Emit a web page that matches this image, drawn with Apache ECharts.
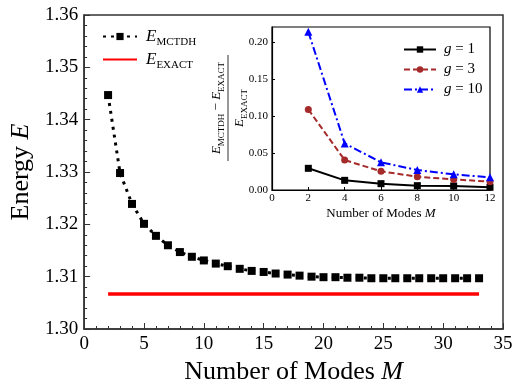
<!DOCTYPE html>
<html>
<head>
<meta charset="utf-8">
<script src="https://cdn.jsdelivr.net/npm/echarts@6/dist/echarts.min.js"></script>
<style>
  html, body { margin: 0; padding: 0; background: #fff; }
  #chart { width: 523px; height: 391px; }
</style>
</head>
<body>
<div id="chart"></div>
<script>
// main panel: energy vs number of modes
const modes = [2, 3, 4, 5, 6, 7, 8, 9, 10, 11, 12, 13, 14, 15, 16, 17,
  18, 19, 20, 21, 22, 23, 24, 25, 26, 27, 28, 29, 30, 31, 32, 33];
const eMctdh = [1.3447, 1.3298, 1.3239, 1.3201, 1.3178, 1.3160, 1.3147, 1.3138,
  1.3131, 1.3125, 1.3120, 1.3115, 1.3111, 1.3109, 1.3106, 1.3104,
  1.3102, 1.3100, 1.3099, 1.3099, 1.3098, 1.3098, 1.3097, 1.3097,
  1.3097, 1.3097, 1.3097, 1.3097, 1.3097, 1.3097, 1.3097, 1.3097];
const eExact = 1.3067;
const exactRange = [2, 33];

// inset: relative error
const insetModes = [2, 4, 6, 8, 10, 12];
const errG1 = [0.0294, 0.0131, 0.0086, 0.0059, 0.0054, 0.0036];
const errG3 = [0.1092, 0.0406, 0.0253, 0.0180, 0.0144, 0.0113];
const errG10 = [0.2144, 0.0632, 0.0375, 0.0271, 0.0212, 0.0172];

const serif = 'Liberation Serif';

const chart = echarts.init(document.getElementById('chart'));

const subRich = (big, small) => ({
  e: { fontFamily: serif, fontStyle: 'italic', fontSize: big, lineHeight: big + 6, verticalAlign: 'middle', color: '#000' },
  s: { fontFamily: serif, fontSize: small, lineHeight: small, verticalAlign: 'bottom', color: '#000' },
  m: { fontFamily: serif, fontSize: big, lineHeight: big + 6, verticalAlign: 'middle', color: '#000' }
});

const legendNames = {
  'E_MCTDH': '{e|E}{s|MCTDH}',
  'E_EXACT': '{e|E}{s|EXACT}',
  'g1': '{e|g}{m| = 1}',
  'g3': '{e|g}{m| = 3}',
  'g10': '{e|g}{m| = 10}'
};

const option = {
  animation: false,
  backgroundColor: '#fff',
  grid: [
    { left: 82, right: 20, top: 15, bottom: 62, show: true, borderColor: '#333', borderWidth: 1.5 },
    { left: 272, right: 33, top: 27, bottom: 201, show: true, borderColor: '#000', borderWidth: 1.2, backgroundColor: '#fff' }
  ],
  xAxis: [
    {
      gridIndex: 0, type: 'value', min: 0, max: 35, interval: 5,
      name: '{a|Number of Modes }{b|M}', nameLocation: 'middle', nameGap: 26,
      nameTextStyle: { rich: { a: { fontFamily: serif, fontSize: 26, color: '#000' }, b: { fontFamily: serif, fontStyle: 'italic', fontSize: 26, color: '#000' } } },
      axisLine: { lineStyle: { color: '#333', width: 1.5 } },
      axisTick: { inside: true, length: 6, lineStyle: { color: '#333' } },
      minorTick: { show: true, splitNumber: 5, length: 3, lineStyle: { color: '#333' } },
      splitLine: { show: false },
      axisLabel: { fontFamily: serif, fontSize: 19, color: '#000', margin: 6 }
    },
    {
      gridIndex: 1, type: 'value', min: 0, max: 12, interval: 2,
      name: '{a|Number of Modes }{b|M}', nameLocation: 'middle', nameGap: 17,
      nameTextStyle: { rich: { a: { fontFamily: serif, fontSize: 13, color: '#000' }, b: { fontFamily: serif, fontStyle: 'italic', fontSize: 13, color: '#000' } } },
      axisLine: { lineStyle: { color: '#000', width: 1.2 } },
      axisTick: { inside: true, length: 3, lineStyle: { color: '#000' } },
      splitLine: { show: false },
      axisLabel: { fontFamily: serif, fontSize: 11, color: '#000', margin: 3 }
    }
  ],
  yAxis: [
    {
      gridIndex: 0, type: 'value', min: 1.30, max: 1.36, interval: 0.01,
      name: '{a|Energy }{b|E}', nameLocation: 'middle', nameGap: 42, nameRotate: 90,
      nameTextStyle: { rich: { a: { fontFamily: serif, fontSize: 26, color: '#000' }, b: { fontFamily: serif, fontStyle: 'italic', fontSize: 26, color: '#000' } } },
      axisLine: { show: true, lineStyle: { color: '#333', width: 1.5 } },
      axisTick: { show: true, inside: true, length: 6, lineStyle: { color: '#333' } },
      minorTick: { show: true, splitNumber: 5, length: 3, lineStyle: { color: '#333' } },
      splitLine: { show: false },
      axisLabel: { fontFamily: serif, fontSize: 19, color: '#000', margin: 6, formatter: v => v.toFixed(2) }
    },
    {
      gridIndex: 1, type: 'value', min: 0, max: 0.221, interval: 0.05,
      axisLine: { show: true, lineStyle: { color: '#000', width: 1.2 } },
      axisTick: { show: true, inside: true, length: 3, lineStyle: { color: '#000' } },
      splitLine: { show: false },
      axisLabel: {
        fontFamily: serif, fontSize: 11, color: '#000', margin: 4, showMaxLabel: false,
        formatter: v => v.toFixed(2)
      }
    }
  ],
  legend: [
    {
      left: 97, top: 23, orient: 'vertical', itemWidth: 34, itemHeight: 9, itemGap: 3, z: 20,
      data: ['E_MCTDH', 'E_EXACT'],
      formatter: n => legendNames[n],
      textStyle: { padding: [0, 0, 0, 4], rich: subRich(17, 11) }
    },
    {
      left: 398, top: 37, orient: 'vertical', itemWidth: 32, itemHeight: 8, itemGap: 5, z: 20,
      data: ['g1', 'g3', 'g10'],
      formatter: n => legendNames[n],
      textStyle: { padding: [0, 0, 0, 3], rich: subRich(15, 10) }
    }
  ],
  graphic: [
    {
      type: 'group', x: 228, y: 108, rotation: Math.PI / 2,
      children: [
        { type: 'text', x: 0, y: -2, style: { text: '{e|E}{s|MCTDH}{m| − }{e|E}{s|EXACT}', rich: subRich(13, 9), align: 'center', verticalAlign: 'bottom' } },
        { type: 'line', shape: { x1: -53, y1: 0, x2: 53, y2: 0 }, style: { stroke: '#555', lineWidth: 1.2 } },
        { type: 'text', x: 0, y: 2, style: { text: '{e|E}{s|EXACT}', rich: subRich(13, 9), align: 'center', verticalAlign: 'top' } }
      ]
    }
  ],
  series: [
    {
      name: 'E_MCTDH', type: 'line', xAxisIndex: 0, yAxisIndex: 0,
      data: modes.map((m, i) => [m, eMctdh[i]]),
      symbol: 'rect', symbolSize: 8,
      itemStyle: { color: '#000' },
      lineStyle: { color: '#000', width: 3, type: [3, 5] }
    },
    {
      name: 'E_EXACT', type: 'line', xAxisIndex: 0, yAxisIndex: 0,
      data: exactRange.map(m => [m, eExact]),
      symbol: 'none',
      itemStyle: { color: '#ff0000', opacity: 0 },
      lineStyle: { color: '#ff0000', width: 3.5 }
    },
    {
      name: 'g1', type: 'line', xAxisIndex: 1, yAxisIndex: 1, z: 6,
      data: insetModes.map((m, i) => [m, errG1[i]]),
      symbol: 'rect', symbolSize: 7,
      itemStyle: { color: '#000' },
      lineStyle: { color: '#000', width: 2 }
    },
    {
      name: 'g3', type: 'line', xAxisIndex: 1, yAxisIndex: 1, z: 6,
      data: insetModes.map((m, i) => [m, errG3[i]]),
      symbol: 'circle', symbolSize: 7,
      itemStyle: { color: '#a52a2a' },
      lineStyle: { color: '#a52a2a', width: 2, type: [6, 3] }
    },
    {
      name: 'g10', type: 'line', xAxisIndex: 1, yAxisIndex: 1, z: 6,
      data: insetModes.map((m, i) => [m, errG10[i]]),
      symbol: 'triangle', symbolSize: 8,
      itemStyle: { color: '#0000ff' },
      lineStyle: { color: '#0000ff', width: 2, type: [8, 3, 2, 3] }
    }
  ]
};

chart.setOption(option);
</script>
</body>
</html>
